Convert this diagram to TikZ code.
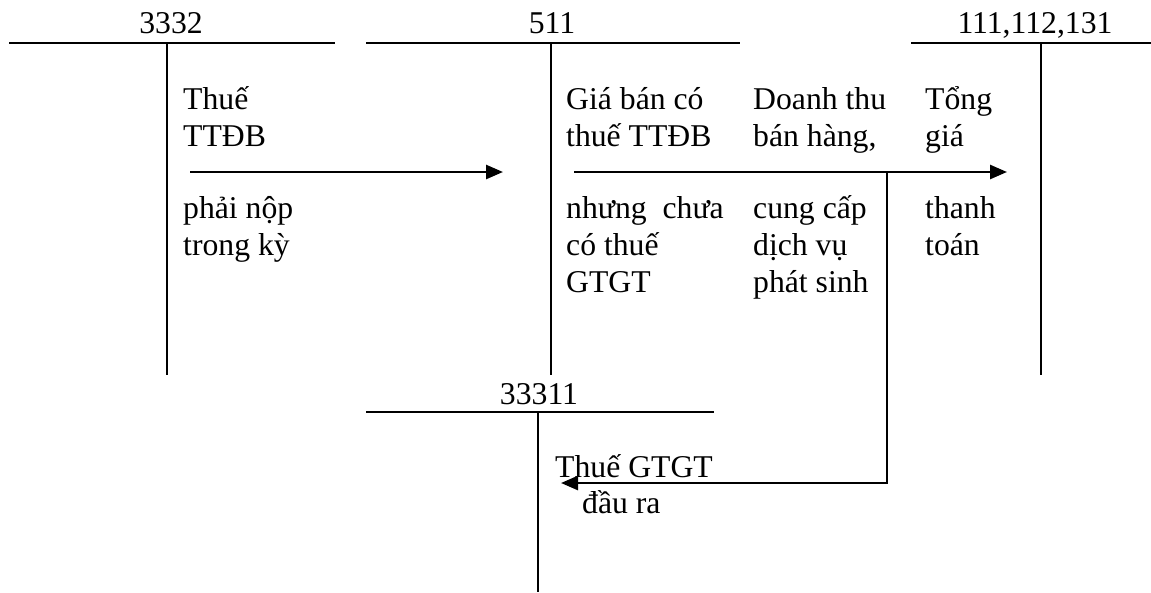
\documentclass[tikz,border=0pt]{standalone}
\usepackage{fontspec}
\setmainfont{Liberation Serif}
\usetikzlibrary{arrows.meta}
% invisible rule fixing the first baseline of a text block 30pt below its top
\newcommand\firstline{\rule{0pt}{30pt}}
\begin{document}
\begin{tikzpicture}[x=1pt,y=-1pt,
  acct/.style={line width=2.6pt},
  flow/.style={line width=2.6pt,-{Triangle[length=17pt,width=14pt]}},
  txt/.style={inner sep=0pt,anchor=north west,align=left,
    font=\fontsize{31.7}{37}\selectfont},
  title/.style={inner sep=0pt,anchor=base,font=\fontsize{31.7}{37}\selectfont}]
\useasboundingbox (0,0) rectangle (1151,592);

% ---- T-accounts ----
% 3332
\coordinate (t1l) at (9,43);   \coordinate (t1r) at (335,43);
\coordinate (t1t) at (167,43); \coordinate (t1b) at (167,375);
\draw[acct] (t1l) -- (t1r);
\draw[acct] (t1t) -- (t1b);
\node[title] (n3332) at (171,33) {3332};
% 511
\coordinate (t2l) at (366,43); \coordinate (t2r) at (740,43);
\coordinate (t2t) at (551,43); \coordinate (t2b) at (551,375);
\draw[acct] (t2l) -- (t2r);
\draw[acct] (t2t) -- (t2b);
\node[title] (n511) at (552,33) {511};
% 111,112,131
\coordinate (t3l) at (911,43);  \coordinate (t3r) at (1151,43);
\coordinate (t3t) at (1041,43); \coordinate (t3b) at (1041,375);
\draw[acct] (t3l) -- (t3r);
\draw[acct] (t3t) -- (t3b);
\node[title] (n111) at (1035,33) {111,112,131};
% 33311
\coordinate (t4l) at (366,412); \coordinate (t4r) at (714,412);
\coordinate (t4t) at (538,412); \coordinate (t4b) at (538,592);
\draw[acct] (t4l) -- (t4r);
\draw[acct] (t4t) -- (t4b);
\node[title] (n33311) at (539,404) {33311};

% ---- entries ----
\coordinate (f1s) at (190,172); \coordinate (f1e) at (503,172);
\draw[flow] (f1s) -- (f1e);

\coordinate (f2s) at (574,172); \coordinate (f2e) at (1007,172);
\draw[flow] (f2s) -- (f2e);

\coordinate (f3s) at (887,172); \coordinate (f3k) at (887,483);
\coordinate (f3e) at (561,483);
\draw[flow] (f3s) -- (f3k) -- (f3e);

% ---- texts ----
\node[txt] (tx1) at (183,79)  {\firstline Thuế\\TTĐB};
\node[txt] (tx2) at (183,188) {\firstline phải nộp\\trong kỳ};
\node[txt] (tx3) at (566,79)  {\firstline Giá bán có\\thuế TTĐB};
\node[txt] (tx4) at (566,188) {\firstline nhưng\ \ chưa\\có thuế\\GTGT};
\node[txt] (tx5) at (753,79)  {\firstline Doanh thu\\bán hàng,};
\node[txt] (tx6) at (753,188) {\firstline cung cấp\\dịch vụ\\phát sinh};
\node[txt] (tx7) at (925,79)  {\firstline Tổng\\giá};
\node[txt] (tx8) at (925,188) {\firstline thanh\\toán};
\node[txt] (tx9) at (555,447) {\firstline Thuế GTGT};
\node[txt] (tx10) at (582,483) {\firstline đầu ra};
\end{tikzpicture}
\end{document}
